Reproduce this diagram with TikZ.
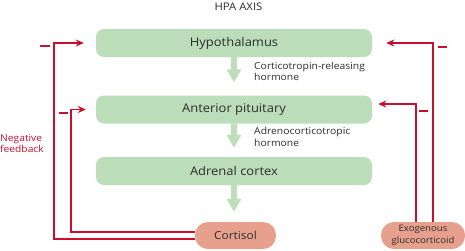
\documentclass[tikz,border=0pt]{standalone}
\usepackage{fontspec}
\setmainfont{Open Sans}[FakeStretch=1.08]
\usetikzlibrary{arrows.meta}
\definecolor{boxgreen}{RGB}{188,221,185}
\definecolor{arrgreen}{RGB}{190,222,186}
\definecolor{salmon}{RGB}{232,160,142}
\definecolor{fbred}{RGB}{200,16,46}
\definecolor{txt}{RGB}{45,45,45}
\begin{document}
\begin{tikzpicture}[x=1pt,y=-1pt,
  stage/.style={fill=boxgreen, rounded corners=8pt, minimum width=276pt, minimum height=28pt, inner sep=0pt, text=txt, font=\fontsize{12}{14}\selectfont},
  hormone/.style={fill=salmon, rounded corners=13pt, minimum height=27pt, inner sep=0pt, text=txt, align=center},
  flow/.style={draw=arrgreen, line width=6.5pt, -{Triangle[length=13pt,width=14pt]}},
  fb/.style={draw=fbred, line width=1.5pt},
  fbarrow/.style={fb, -{Stealth[length=8pt,width=7pt]}},
  minus/.style={draw=fbred, line width=1.5pt},
  lab/.style={text=txt, font=\fontsize{9.6}{11.5}\selectfont, align=left, anchor=north west, inner sep=0pt}]
\useasboundingbox (0,0) rectangle (465,250);

\node[text=txt, font=\fontsize{10.5}{12}\selectfont] (title) at (238.5,6.5) {HPA AXIS};

\node[stage] (hyp) at (234,43) {Hypothalamus};
\node[stage] (pit) at (234,109.5) {Anterior pituitary};
\node[stage] (adr) at (234,171) {Adrenal cortex};
\node[hormone, minimum width=81pt, font=\fontsize{11}{13}\selectfont] (cor) at (235.5,235.5) {Cortisol};
\node[hormone, minimum width=84pt, font=\fontsize{8.9}{11.5}\selectfont] (exo) at (423,235.5) {Exogenous\\glucocorticoid};

\node[lab] (crh) at (254,62) {Corticotropin-releasing\\hormone};
\node[lab] (acth) at (254,127) {Adrenocorticotropic\\hormone};

\draw[flow, shorten >=13pt] (hyp.south) -- (pit.north);
\draw[flow, shorten >=9pt] (pit.south) -- (adr.north);
\draw[flow, shorten >=10pt] (adr.south) -- (adr.south |- cor.north);

\coordinate (lo) at (54,239);
\coordinate (li) at (71,232);
\coordinate (ro) at (433,43);
\coordinate (ri) at (416,104);

\draw[fbarrow, shorten >=12pt] (cor.west |- lo) -- (lo) |- (hyp.west);
\draw[fbarrow, shorten >=10pt] (cor.west |- li) -- (li) |- (pit.west);
\draw[fbarrow, shorten >=14pt] (exo.north -| ro) -- (ro) -- (hyp.east);
\draw[fbarrow, shorten >=6pt] (exo.north -| ri) -- (ri) -- (ri -| pit.east);

\draw[minus] (40,46) -- (50,46);
\draw[minus] (59,113) -- (68,113);
\draw[minus] (438,47) -- (447,47);
\draw[minus] (419,111) -- (428,111);

\node[text=fbred, font=\fontsize{9.5}{11.5}\selectfont, align=left, anchor=north west, inner sep=0pt] (neg) at (0,134) {Negative\\feedback};
\end{tikzpicture}
\end{document}
